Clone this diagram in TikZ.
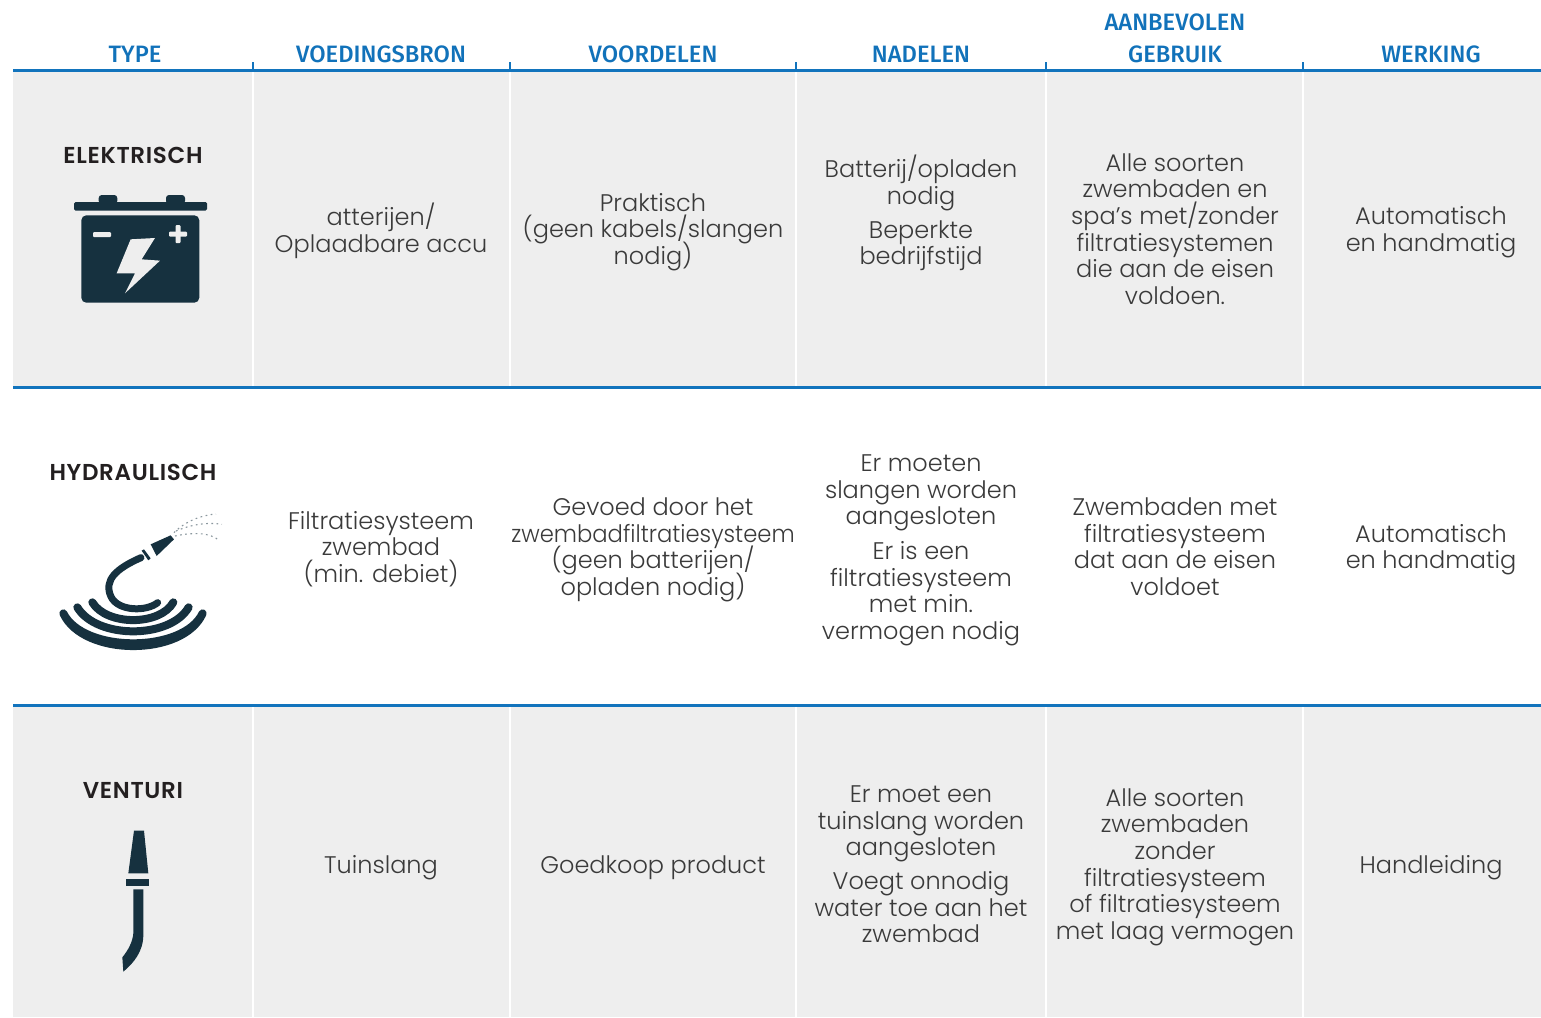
\documentclass[tikz,border=0pt]{standalone}
\usepackage{fontspec}
\usepackage{graphicx}
\setmainfont{Poppins}[UprightFont=* Light,BoldFont=* SemiBold]
\newfontfamily\headfont{Fira Sans}[UprightFont=* Medium]
\newcommand{\squeezeline}[1]{\scalebox{0.945}[1]{#1}}
\newcommand{\cellfont}{\fontsize{24}{26.6}\selectfont\lineskiplimit=-100pt\relax}
\newcommand{\labelfont}{\bfseries\fontsize{23}{25}\selectfont\addfontfeature{LetterSpace=3}}
\definecolor{rowgrey}{HTML}{EEEEEE}
\definecolor{lineblue}{HTML}{1274BD}
\definecolor{headblue}{HTML}{1172BA}
\definecolor{icondark}{HTML}{16313F}
\definecolor{bodytext}{HTML}{3A3A3A}
\definecolor{labeltext}{HTML}{231F20}
\definecolor{spraygrey}{HTML}{8A979E}
\tikzset{
  cell/.style={align=center,inner sep=0pt,anchor=center,text=bodytext,font=\cellfont},
  head/.style={align=center,inner sep=0pt,anchor=base,text=headblue,font=\headfont\fontsize{23.7}{32.5}\selectfont},
  rowlabel/.style={inner sep=0pt,anchor=base,text=labeltext,font=\labelfont},
  rule/.style={draw=lineblue,line width=3pt},
  tick/.style={draw=lineblue,line width=2.5pt},
  sep/.style={draw=white,line width=2pt},
  crescent/.style={fill=icondark,draw=icondark,line width=8pt,line join=round},
  hoseband/.style={draw=icondark,line width=8pt,line cap=round},
  spray/.style={draw=spraygrey,line width=1.1pt,dash pattern=on 1.7pt off 3.5pt},
}
\begin{document}
\begin{tikzpicture}[x=1pt,y=-1pt]
\useasboundingbox (0,0) rectangle (1541,1017);
\fill[white] (0,0) rectangle (1541,1017);
% rows
\fill[rowgrey] (13,70) rectangle (1541,387);
\fill[rowgrey] (13,705) rectangle (1541,1017);
% separators
\foreach \c in {253,510,796,1046,1303}{
  \draw[sep] (\c,71) -- (\c,387);
  \draw[sep] (\c,706) -- (\c,1017);
  \draw[tick] (\c,62) -- (\c,70);
}
\draw[rule] (13,70) -- (1541,70);
\draw[rule] (13,387.5) -- (1541,387.5);
\draw[rule] (13,705) -- (1541,705);
% header
\node[head] (h1) at (135,62) {TYPE};
\node[head] (h2) at (381,62) {VOEDINGSBRON};
\node[head] (h3) at (653,62) {VOORDELEN};
\node[head] (h4) at (921,62) {NADELEN};
\node[head] (h5) at (1175,62) {GEBRUIK};
\node[head] (h5b) at (1175,30) {AANBEVOLEN};
\node[head] (h6) at (1431,62) {WERKING};
% row labels
\node[rowlabel] (r1) at (133,163) {ELEKTRISCH};
\node[rowlabel] (r2) at (133,480) {HYDRAULISCH};
\node[rowlabel] (r3) at (133,798) {VENTURI};
% row 1
\node[cell] (a2) at (381,232) {\strut atterijen/\\\strut Oplaadbare accu};
\node[cell] (a3) at (653,232.5) {\strut Praktisch\\\strut(geen kabels/slangen\\\strut nodig)};
\node[cell] (a4a) at (921,184) {\strut Batterij/opladen\\\strut nodig};
\node[cell] (a4b) at (921,246) {\strut Beperkte\\\strut bedrijfstijd};
\node[cell] (a5) at (1175,232.5) {\strut Alle soorten\\zwembaden en\\spa's met/zonder\\filtratiesystemen\\die aan de eisen\\\strut voldoen.};
\node[cell] (a6) at (1431,232.5) {\strut Automatisch\\\strut en handmatig};
% row 2
\node[cell] (b2) at (381,550.5) {\strut Filtratiesysteem\\zwembad\\\strut (min. debiet)};
\node[cell] (b3) at (653,550) {\strut Gevoed door het\\\strut\squeezeline{zwembadfiltratiesysteem}\\\strut(geen batterijen/\\\strut opladen nodig)};
\node[cell] (b4a) at (921,493) {\strut Er moeten\\slangen worden\\\strut aangesloten};
\node[cell] (b4b) at (921,594) {\strut Er is een\\filtratiesysteem\\met min.\\\strut vermogen nodig};
\node[cell] (b5) at (1175,550) {\strut Zwembaden met\\filtratiesysteem\\dat aan de eisen\\\strut voldoet};
\node[cell] (b6) at (1431,550) {\strut Automatisch\\\strut en handmatig};
% row 3
\node[cell] (c2) at (381,868) {\strut Tuinslang};
\node[cell] (c3) at (653,868) {\strut Goedkoop product};
\node[cell] (c4a) at (921,824) {\strut Er moet een\\tuinslang worden\\\strut aangesloten};
\node[cell] (c4b) at (921,911) {\strut Voegt onnodig\\water toe aan het\\\strut zwembad};
\node[cell] (c5) at (1175,867.5) {\strut Alle soorten\\zwembaden\\zonder\\filtratiesysteem\\of filtratiesysteem\\\strut met laag vermogen};
\node[cell] (c6) at (1431,868) {\strut Handleiding};
% battery icon
\fill[icondark,rounded corners=1.5pt] (74,202) rectangle (207,210.7);
\fill[icondark,rounded corners=3pt] (98.7,204) -- (98.7,195) -- (117.3,195) -- (117.3,204) -- cycle;
\fill[icondark,rounded corners=3pt] (166,204) -- (166,195) -- (185,195) -- (185,204) -- cycle;
\fill[icondark,rounded corners=5pt] (81.3,215.3) rectangle (199.3,302.7);
\fill[rowgrey,rounded corners=1pt] (93,232) rectangle (111,237);
\fill[rowgrey,rounded corners=1pt] (169,231.5) rectangle (187,236.5);
\fill[rowgrey,rounded corners=1pt] (175.5,225) rectangle (180.5,243);
\begin{scope}[shift={(40,130)},x=0.3333pt,y=-0.3333pt]
\fill[rowgrey] (272,328) -- (345,324) -- (305,388) -- (360,392) -- (255,490) -- (285,430) -- (230,430) -- cycle;
\end{scope}
% hose icon
\begin{scope}[shift={(40,490)},x=0.3333pt,y=-0.3333pt]
\draw[crescent] (70,370) .. controls (130,490) and (430,490) .. (488,370) .. controls (430,501) and (130,501) .. cycle;
\draw[hoseband] (112,352) .. controls (170,448) and (390,448) .. (446,352);
\draw[hoseband] (157,337) .. controls (200,408) and (360,408) .. (400,337);
\draw[icondark,line width=7pt,line cap=round] (353,338) .. controls (320,365) and (235,365) .. (213,320) .. controls (190,270) and (230,235) .. (303,203);
\fill[icondark] (305,182) -- (312,178) -- (332,205) -- (325,211) -- cycle;
\fill[icondark] (332,163) -- (392,136) -- (402,148) -- (350,198) -- cycle;
\draw[spray] (402,128) .. controls (440,90) and (490,75) .. (528,72);
\draw[spray] (408,123) .. controls (450,105) and (500,95) .. (546,103);
\draw[spray] (405,138) .. controls (450,128) and (510,125) .. (538,152);
\end{scope}
% venturi icon
\begin{scope}[shift={(90,820)},x=0.3333pt,y=-0.3333pt]
\fill[icondark] (132,32) -- (162,32) -- (175,160) -- (115,160) -- cycle;
\fill[icondark] (107,176) rectangle (177,198);
\fill[icondark] (130,208) -- (130,340) .. controls (128,365) and (115,390) .. (97,412) -- (100,455) .. controls (130,430) and (160,395) .. (160,345) -- (160,208) -- cycle;
\end{scope}
\end{tikzpicture}
\end{document}
